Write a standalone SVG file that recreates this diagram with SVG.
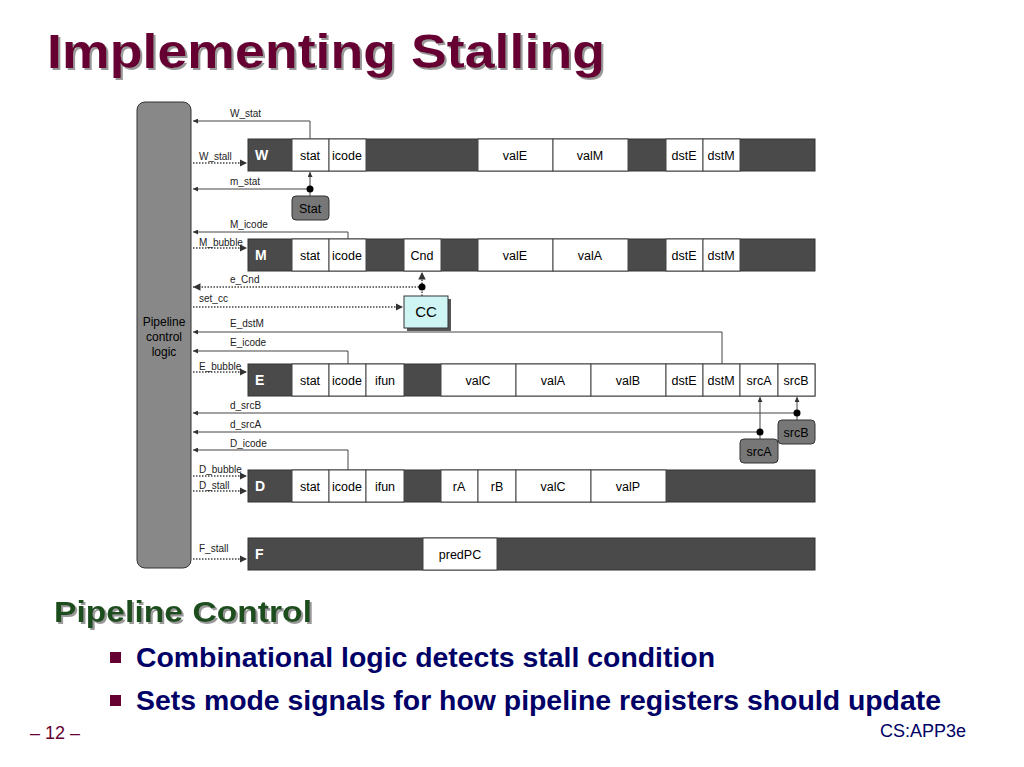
<svg xmlns="http://www.w3.org/2000/svg" width="1024" height="767" viewBox="0 0 1024 767">
<style>
text{font-family:"Liberation Sans",Arial,sans-serif}
.f{font-size:12.5px;fill:#000;text-anchor:middle}
.l{font-size:10px;fill:#222}
.w{fill:#fff;stroke:#444;stroke-width:1}
.d{fill:#4a4a4a;stroke:#333;stroke-width:1}
.rl{font-size:14px;font-weight:bold;fill:#fff}
.s{stroke:#444;stroke-width:1;fill:none}
.dt{stroke:#444;stroke-width:1.5;stroke-dasharray:1.5 1.5;fill:none}
</style>
<defs>
<marker id="a" viewBox="0 0 6 6" refX="6" refY="3" markerWidth="5" markerHeight="5" orient="auto"><path d="M0,0L6,3L0,6z" fill="#333"/></marker>
<filter id="sh"><feDropShadow dx="2" dy="2" stdDeviation="0.5" flood-color="#999"/></filter>
</defs>
<rect width="1024" height="767" fill="#fff"/>
<text x="47" y="68" font-size="48" font-weight="bold" fill="#660033" filter="url(#sh)" textLength="558" lengthAdjust="spacingAndGlyphs">Implementing Stalling</text>

<g id="ctrl"><rect x="137" y="102" width="54" height="466" rx="8" fill="#888" stroke="#333"/>
<text x="164" y="326" font-size="12" text-anchor="middle">Pipeline</text><text x="164" y="341" font-size="12" text-anchor="middle">control</text><text x="164" y="356" font-size="12" text-anchor="middle">logic</text></g>

<g id="W"><rect class="d" x="248" y="139" width="567" height="32"/><text class="rl" x="255" y="160">W</text>
<rect class="w" x="292" y="139" width="37" height="32"/><text class="f" x="310" y="160">stat</text>
<rect class="w" x="329" y="139" width="37" height="32"/><text class="f" x="347" y="160">icode</text>
<rect class="w" x="478" y="139" width="75" height="32"/><text class="f" x="515" y="160">valE</text>
<rect class="w" x="553" y="139" width="75" height="32"/><text class="f" x="590" y="160">valM</text>
<rect class="w" x="666" y="139" width="37" height="32"/><text class="f" x="684" y="160">dstE</text>
<rect class="w" x="703" y="139" width="37" height="32"/><text class="f" x="721" y="160">dstM</text></g>

<g id="M"><rect class="d" x="248" y="239" width="567" height="32"/><text class="rl" x="255" y="260">M</text>
<rect class="w" x="292" y="239" width="37" height="32"/><text class="f" x="310" y="260">stat</text>
<rect class="w" x="329" y="239" width="37" height="32"/><text class="f" x="347" y="260">icode</text>
<rect class="w" x="404" y="239" width="37" height="32"/><text class="f" x="422" y="260">Cnd</text>
<rect class="w" x="478" y="239" width="75" height="32"/><text class="f" x="515" y="260">valE</text>
<rect class="w" x="553" y="239" width="75" height="32"/><text class="f" x="590" y="260">valA</text>
<rect class="w" x="666" y="239" width="37" height="32"/><text class="f" x="684" y="260">dstE</text>
<rect class="w" x="703" y="239" width="37" height="32"/><text class="f" x="721" y="260">dstM</text></g>

<g id="E"><rect class="d" x="248" y="364" width="567" height="32"/><text class="rl" x="255" y="385">E</text>
<rect class="w" x="292" y="364" width="37" height="32"/><text class="f" x="310" y="385">stat</text>
<rect class="w" x="329" y="364" width="37" height="32"/><text class="f" x="347" y="385">icode</text>
<rect class="w" x="366" y="364" width="38" height="32"/><text class="f" x="385" y="385">ifun</text>
<rect class="w" x="441" y="364" width="75" height="32"/><text class="f" x="478" y="385">valC</text>
<rect class="w" x="516" y="364" width="75" height="32"/><text class="f" x="553" y="385">valA</text>
<rect class="w" x="591" y="364" width="75" height="32"/><text class="f" x="628" y="385">valB</text>
<rect class="w" x="666" y="364" width="37" height="32"/><text class="f" x="684" y="385">dstE</text>
<rect class="w" x="703" y="364" width="37" height="32"/><text class="f" x="721" y="385">dstM</text>
<rect class="w" x="740" y="364" width="38" height="32"/><text class="f" x="759" y="385">srcA</text>
<rect class="w" x="778" y="364" width="37" height="32"/><text class="f" x="796" y="385">srcB</text></g>

<g id="D"><rect class="d" x="248" y="470" width="567" height="32"/><text class="rl" x="255" y="491">D</text>
<rect class="w" x="292" y="470" width="37" height="32"/><text class="f" x="310" y="491">stat</text>
<rect class="w" x="329" y="470" width="37" height="32"/><text class="f" x="347" y="491">icode</text>
<rect class="w" x="366" y="470" width="38" height="32"/><text class="f" x="385" y="491">ifun</text>
<rect class="w" x="441" y="470" width="37" height="32"/><text class="f" x="459" y="491">rA</text>
<rect class="w" x="478" y="470" width="38" height="32"/><text class="f" x="497" y="491">rB</text>
<rect class="w" x="516" y="470" width="75" height="32"/><text class="f" x="553" y="491">valC</text>
<rect class="w" x="591" y="470" width="75" height="32"/><text class="f" x="628" y="491">valP</text></g>

<g id="F"><rect class="d" x="248" y="538" width="567" height="32"/><text class="rl" x="255" y="559">F</text>
<rect class="w" x="423" y="538" width="74" height="32"/><text class="f" x="460" y="559">predPC</text></g>

<g id="Stat"><rect x="292" y="196" width="37" height="24" rx="4" fill="#777" stroke="#333"/><text class="f" x="310" y="213">Stat</text></g>
<g id="CC"><rect x="407" y="299" width="44" height="32" fill="#555"/><rect x="404" y="296" width="44" height="32" fill="#cff4f4" stroke="#333"/><text x="426" y="317" font-size="15" text-anchor="middle">CC</text></g>
<g id="srcBbox"><rect x="778" y="420" width="37" height="24" rx="4" fill="#777" stroke="#333"/><text class="f" x="796" y="437">srcB</text></g>
<g id="srcAbox"><rect x="740" y="439" width="38" height="24" rx="4" fill="#777" stroke="#333"/><text class="f" x="759" y="456">srcA</text></g>

<g id="connectors">
<path class="s" d="M310,139V121H193" marker-end="url(#a)"/>
<path class="dt" d="M193,163H247" marker-end="url(#a)"/>
<path class="s" d="M310,196V172" marker-end="url(#a)"/>
<path class="s" d="M310,189H193" marker-end="url(#a)"/><circle cx="310" cy="189" r="3.5"/>
<path class="s" d="M348,239V232H193" marker-end="url(#a)"/>
<path class="dt" d="M193,248H247" marker-end="url(#a)"/>
<path class="dt" d="M422,296V272" marker-end="url(#a)"/>
<path class="dt" d="M422,287H193" marker-end="url(#a)"/><circle cx="422" cy="287" r="3.5"/>
<path class="dt" d="M193,307H403" marker-end="url(#a)"/>
<path class="s" d="M722,364V332H193" marker-end="url(#a)"/>
<path class="s" d="M348,364V351H193" marker-end="url(#a)"/>
<path class="dt" d="M193,372H247" marker-end="url(#a)"/>
<path class="s" d="M797,420V397" marker-end="url(#a)"/>
<path class="s" d="M797,413H193" marker-end="url(#a)"/><circle cx="797" cy="413" r="3.5"/>
<path class="s" d="M760,439V397" marker-end="url(#a)"/>
<path class="s" d="M760,432H193" marker-end="url(#a)"/><circle cx="760" cy="432" r="3.5"/>
<path class="s" d="M348,470V450H193" marker-end="url(#a)"/>
<path class="dt" d="M193,476H247" marker-end="url(#a)"/>
<path class="dt" d="M193,491H247" marker-end="url(#a)"/>
<path class="dt" d="M193,559H247" marker-end="url(#a)"/>
</g>
<g id="labels">
<text class="l" x="230" y="117">W_stat</text>
<text class="l" x="199" y="160">W_stall</text>
<text class="l" x="230" y="185">m_stat</text>
<text class="l" x="230" y="228">M_icode</text>
<text class="l" x="199" y="246">M_bubble</text>
<text class="l" x="230" y="283">e_Cnd</text>
<text class="l" x="199" y="302">set_cc</text>
<text class="l" x="230" y="327">E_dstM</text>
<text class="l" x="230" y="346">E_icode</text>
<text class="l" x="199" y="370">E_bubble</text>
<text class="l" x="230" y="409">d_srcB</text>
<text class="l" x="230" y="428">d_srcA</text>
<text class="l" x="230" y="447">D_icode</text>
<text class="l" x="199" y="473">D_bubble</text>
<text class="l" x="199" y="489">D_stall</text>
<text class="l" x="199" y="552">F_stall</text>
</g>

<text x="54" y="622" font-size="29" font-weight="bold" fill="#1e4d1e" filter="url(#sh)" textLength="258" lengthAdjust="spacingAndGlyphs">Pipeline Control</text>
<rect x="110" y="652" width="11" height="11" fill="#660033"/>
<text x="136" y="667" font-size="27" font-weight="bold" fill="#000066" textLength="579" lengthAdjust="spacingAndGlyphs">Combinational logic detects stall condition</text>
<rect x="110" y="695" width="11" height="11" fill="#660033"/>
<text x="136" y="710" font-size="27" font-weight="bold" fill="#000066" textLength="805" lengthAdjust="spacingAndGlyphs">Sets mode signals for how pipeline registers should update</text>
<text x="30" y="739" font-size="18" fill="#660033">– 12 –</text>
<text x="966" y="737" font-size="18" fill="#000066" text-anchor="end">CS:APP3e</text>
</svg>
